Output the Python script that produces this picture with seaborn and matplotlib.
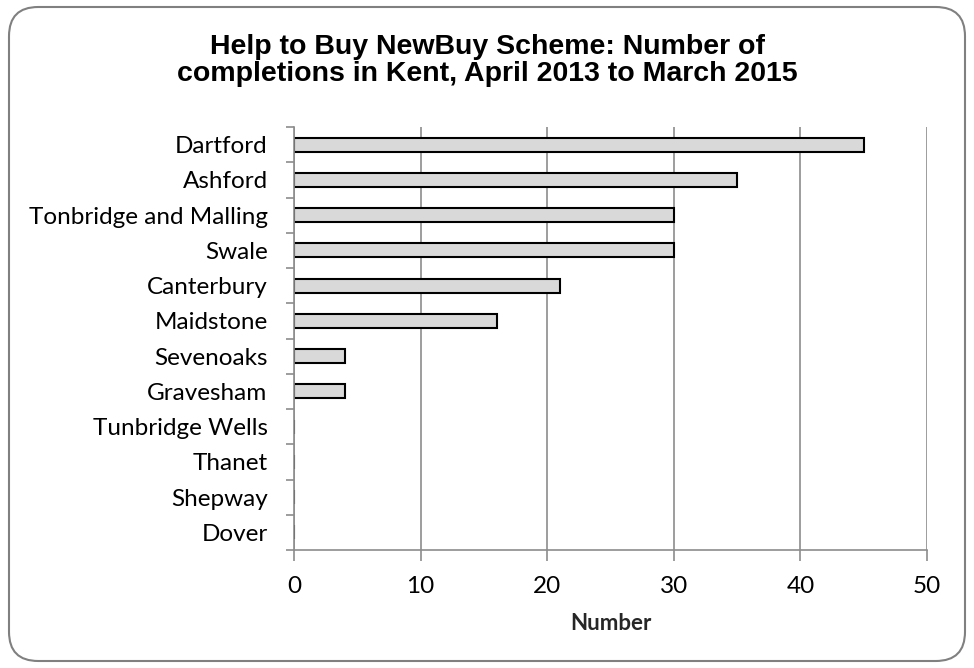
import numpy as np
import pandas as pd
import matplotlib.pyplot as plt
import seaborn as sns
from matplotlib.patches import FancyBboxPatch
from matplotlib.ticker import FixedLocator

districts = ['Dartford', 'Ashford', 'Tonbridge and Malling', 'Swale', 'Canterbury',
             'Maidstone', 'Sevenoaks', 'Gravesham', 'Tunbridge Wells', 'Thanet',
             'Shepway', 'Dover']
completions = [45, 35, 30, 30, 21, 16, 4, 4, 0, 0, 0, 0]
x_ticks = [0, 10, 20, 30, 40, 50]

df = pd.DataFrame({'district': districts, 'completions': completions})

sns.set_style('white')
plt.rcParams['font.family'] = ['Lato', 'DejaVu Sans']
plt.rcParams['text.color'] = 'black'
plt.rcParams['xtick.color'] = 'black'
plt.rcParams['ytick.color'] = 'black'

fig = plt.figure(figsize=(9.74, 6.68), dpi=100)
ax = fig.add_axes([294 / 974, 1 - 550 / 668, (927 - 294) / 974, (550 - 127) / 668])

sns.barplot(data=df, x='completions', y='district', orient='h', ax=ax,
            color='#d9d9d9', edgecolor='black', linewidth=1.5, width=0.4,
            saturation=1)

ax.set_xlim(0, 50)
ax.set_ylim(len(districts) - 0.5, -0.5)
ax.set_xticks(x_ticks)
ax.xaxis.grid(True, color='#8c8c8c', linewidth=1.2)
ax.set_axisbelow(True)

for s in ['top', 'right']:
    ax.spines[s].set_visible(False)
for s in ['left', 'bottom']:
    ax.spines[s].set_color('#8c8c8c')
    ax.spines[s].set_linewidth(1.2)

# category boundary ticks on the y axis
ax.yaxis.set_minor_locator(FixedLocator(np.arange(-0.5, len(districts), 1)))
ax.tick_params(axis='y', which='major', length=0, pad=19, labelsize=17.5)
ax.tick_params(axis='y', which='minor', length=6, width=1.2, color='#8c8c8c', left=True)
ax.tick_params(axis='x', which='major', length=8, width=1.2, color='#8c8c8c',
               labelsize=17.5, labelcolor='black', pad=11, bottom=True)

ax.set_ylabel('')
ax.set_xlabel('Number', fontsize=16, fontweight='bold', labelpad=11)

fig.text(0.5, 1 - 34 / 668, 'Help to Buy NewBuy Scheme: Number of\ncompletions in Kent, April 2013 to March 2015',
         ha='center', va='top', fontsize=20.5, fontweight='bold', color='black',
         family=['Liberation Sans', 'DejaVu Sans'], linespacing=1.05)

border = FancyBboxPatch((9 / 974, 7 / 668), 956 / 974, 654 / 668,
                        boxstyle='round,pad=0,rounding_size=0.03',
                        transform=fig.transFigure, facecolor='none',
                        edgecolor='#808080', linewidth=1.5, mutation_aspect=974 / 668)
fig.patches.append(border)

fig.savefig('out.png', dpi=100)
